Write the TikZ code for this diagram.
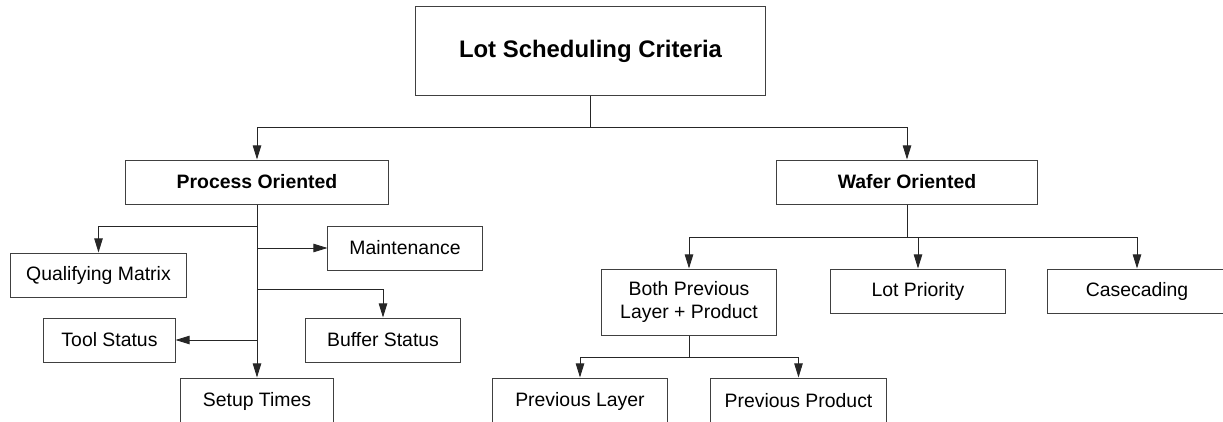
\documentclass[tikz,border=0pt]{standalone}
\usepackage{fontspec}
\setmainfont{Liberation Sans}
\usetikzlibrary{arrows.meta}
\definecolor{boxline}{HTML}{404040}

\begin{document}
\begin{tikzpicture}[x=0.025cm, y=-0.025cm,
  box/.style={draw=boxline, line width=0.7pt, minimum height=1.1cm, inner sep=0pt,
              font=\fontsize{13.8}{16.8}\selectfont, align=center},
  head/.style={box, font=\fontsize{13.8}{16.8}\selectfont\bfseries},
  link/.style={line width=0.65pt, color=black!85},
  arrow/.style={link, -{Triangle[length=10pt, width=6pt]}}
]
\useasboundingbox (0,0) rectangle (1223,421);

\node[head, minimum width=8.725cm, minimum height=2.2cm,
      font=\fontsize{17}{20}\selectfont\bfseries] (crit) at (590.5,51) {Lot Scheduling Criteria};

\node[head, minimum width=6.55cm] (proc) at (257,182) {Process Oriented};
\node[head, minimum width=6.525cm] (wafer) at (907,182) {Wafer Oriented};

\node[box, minimum width=4.375cm] (qual) at (98.5,275) {Qualifying Matrix};
\node[box, minimum width=3.85cm] (maint) at (405,248) {Maintenance};
\node[box, minimum width=3.275cm] (tool) at (109.5,340) {Tool Status};
\node[box, minimum width=3.85cm] (buffer) at (383,340) {Buffer Status};
\node[box, minimum width=3.825cm, minimum height=1.15cm] (setup) at (257,401) {Setup Times};

\node[box, minimum width=4.35cm, minimum height=1.65cm] (both) at (689,302) {Both Previous\\Layer + Product};
\node[box, minimum width=4.35cm] (lot) at (918,291) {Lot Priority};
\node[box, minimum width=4.45cm] (case) at (1137,291) {Casecading};
\node[box, minimum width=4.35cm, minimum height=1.15cm] (layer) at (580,401) {Previous Layer};
\node[box, minimum width=4.375cm, minimum height=1.15cm] (product) at (798.5,401) {Previous Product};

\coordinate (c0) at (590.5,127);
\coordinate (p1) at (257,226);
\coordinate (p2) at (257,248);
\coordinate (p3) at (257,289);
\coordinate (p4) at (257,340);
\coordinate (w0) at (907,237);
\coordinate (b0) at (689,357);

\draw[link] (crit) -- (c0);
\draw[arrow] (c0) -| (proc);
\draw[arrow] (c0) -| (wafer);

\draw[arrow] (proc) -- (setup);
\draw[arrow] (p1) -| (qual);
\draw[arrow] (p2) -- (maint);
\draw[arrow] (p3) -| (buffer);
\draw[arrow] (p4) -- (tool);

\draw[link] (wafer) -- (w0);
\draw[arrow] (w0) -| (both);
\draw[arrow] (w0) -| (lot);
\draw[arrow] (w0) -| (case);

\draw[link] (both) -- (b0);
\draw[arrow] (b0) -| (layer);
\draw[arrow] (b0) -| (product);

\end{tikzpicture}
\end{document}
